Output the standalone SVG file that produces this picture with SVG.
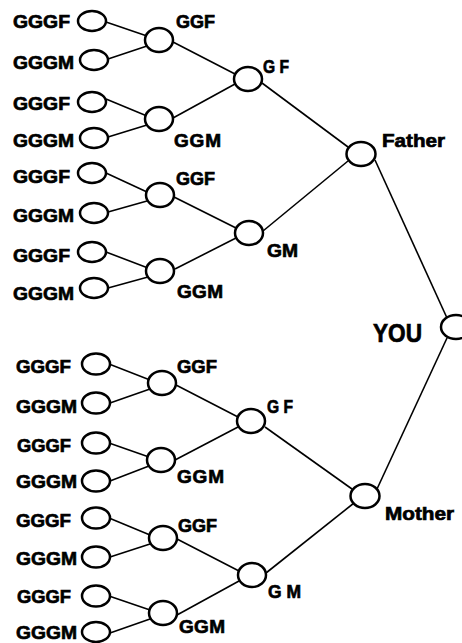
<svg xmlns="http://www.w3.org/2000/svg" width="462" height="643" viewBox="0 0 462 643">
<style>
.n{fill:#fff;stroke:#000;stroke-width:2.5}
.t{font-family:"Liberation Sans",Arial,sans-serif;font-weight:700;font-size:19px;fill:#000;stroke:#000;stroke-width:0.7}
.y{font-size:25px}
.c line{stroke:#000;stroke-width:1.6}
</style>
<rect width="462" height="643" fill="#fff"/>
<g class="c" id="connectors">
<line x1="106" y1="22" x2="147" y2="36"/>
<line x1="108" y1="59" x2="147" y2="46"/>
<line x1="106" y1="99" x2="147" y2="116"/>
<line x1="108" y1="137" x2="147" y2="125"/>
<line x1="106" y1="173" x2="147" y2="192"/>
<line x1="108" y1="212" x2="147" y2="201"/>
<line x1="106" y1="252" x2="148" y2="268"/>
<line x1="108" y1="288" x2="148" y2="277"/>
<line x1="109" y1="364" x2="150" y2="380"/>
<line x1="110" y1="403" x2="150" y2="389"/>
<line x1="109" y1="443" x2="149" y2="457"/>
<line x1="110" y1="481" x2="149" y2="466"/>
<line x1="109" y1="518" x2="150" y2="535"/>
<line x1="110" y1="557" x2="150" y2="544"/>
<line x1="109" y1="596" x2="150" y2="610"/>
<line x1="110" y1="633" x2="150" y2="619"/>
<line x1="173" y1="42" x2="235" y2="74"/>
<line x1="173" y1="118" x2="235" y2="84"/>
<line x1="174" y1="197" x2="236" y2="228"/>
<line x1="175" y1="269" x2="236" y2="238"/>
<line x1="176" y1="385" x2="238" y2="417"/>
<line x1="175" y1="460" x2="238" y2="427"/>
<line x1="177" y1="539" x2="239" y2="571"/>
<line x1="177" y1="615" x2="239" y2="581"/>
<line x1="262" y1="83" x2="348" y2="147"/>
<line x1="263" y1="231" x2="348" y2="161"/>
<line x1="265" y1="427" x2="352" y2="489"/>
<line x1="266" y1="573" x2="354" y2="503"/>
<line x1="375" y1="160" x2="447" y2="318"/>
<line x1="447" y1="338" x2="377" y2="489"/>
</g>
<g id="you"><ellipse class="n" cx="456" cy="327" rx="15" ry="12"/><text class="t y" x="373" y="342" textLength="49" lengthAdjust="spacingAndGlyphs">YOU</text></g>
<g id="father"><ellipse class="n" cx="361" cy="154" rx="14.5" ry="12"/><text class="t" x="382" y="147" textLength="63" lengthAdjust="spacingAndGlyphs">Father</text></g>
<g id="mother"><ellipse class="n" cx="365" cy="496" rx="14.5" ry="12"/><text class="t" x="385" y="520" textLength="69" lengthAdjust="spacingAndGlyphs">Mother</text></g>
<g id="gf1"><ellipse class="n" cx="248" cy="79" rx="14" ry="12"/><text class="t" x="263" y="73" textLength="26" lengthAdjust="spacingAndGlyphs">G F</text></g>
<g id="gm1"><ellipse class="n" cx="249" cy="233" rx="14" ry="12"/><text class="t" x="267" y="257" textLength="31" lengthAdjust="spacingAndGlyphs">GM</text></g>
<g id="gf2"><ellipse class="n" cx="251" cy="421" rx="14" ry="12"/><text class="t" x="267" y="413" textLength="26" lengthAdjust="spacingAndGlyphs">G F</text></g>
<g id="gm2"><ellipse class="n" cx="252" cy="575" rx="14" ry="12"/><text class="t" x="268" y="598" textLength="33" lengthAdjust="spacingAndGlyphs">G M</text></g>
<g id="ggf1"><ellipse class="n" cx="159" cy="40" rx="14" ry="12"/><text class="t" x="176" y="28" textLength="39" lengthAdjust="spacingAndGlyphs">GGF</text></g>
<g id="ggm1"><ellipse class="n" cx="159" cy="119" rx="14" ry="12"/><text class="t" x="174" y="147" textLength="47" lengthAdjust="spacing">GGM</text></g>
<g id="ggf2"><ellipse class="n" cx="160" cy="195" rx="14" ry="12"/><text class="t" x="176" y="185" textLength="39" lengthAdjust="spacingAndGlyphs">GGF</text></g>
<g id="ggm2"><ellipse class="n" cx="160" cy="271" rx="14" ry="12"/><text class="t" x="177" y="298" textLength="46" lengthAdjust="spacing">GGM</text></g>
<g id="ggf3"><ellipse class="n" cx="162" cy="383" rx="14" ry="12"/><text class="t" x="177" y="373" textLength="40" lengthAdjust="spacingAndGlyphs">GGF</text></g>
<g id="ggm3"><ellipse class="n" cx="161" cy="460" rx="14" ry="12"/><text class="t" x="177" y="483" textLength="47" lengthAdjust="spacing">GGM</text></g>
<g id="ggf4"><ellipse class="n" cx="163" cy="538" rx="14" ry="12"/><text class="t" x="178" y="532" textLength="39" lengthAdjust="spacingAndGlyphs">GGF</text></g>
<g id="ggm4"><ellipse class="n" cx="163" cy="613" rx="14" ry="12"/><text class="t" x="179" y="633" textLength="46" lengthAdjust="spacing">GGM</text></g>
<g id="l1"><ellipse class="n" cx="92" cy="21" rx="14" ry="10"/><text class="t" x="13" y="28" textLength="57" lengthAdjust="spacingAndGlyphs">GGGF</text></g>
<g id="l2"><ellipse class="n" cx="94" cy="60" rx="14" ry="10"/><text class="t" x="13" y="69" textLength="61" lengthAdjust="spacingAndGlyphs">GGGM</text></g>
<g id="l3"><ellipse class="n" cx="92" cy="102" rx="14" ry="10"/><text class="t" x="13" y="110" textLength="57" lengthAdjust="spacingAndGlyphs">GGGF</text></g>
<g id="l4"><ellipse class="n" cx="94" cy="138" rx="14" ry="10"/><text class="t" x="13" y="147" textLength="61" lengthAdjust="spacingAndGlyphs">GGGM</text></g>
<g id="l5"><ellipse class="n" cx="92" cy="173" rx="14" ry="10"/><text class="t" x="13" y="183" textLength="57" lengthAdjust="spacingAndGlyphs">GGGF</text></g>
<g id="l6"><ellipse class="n" cx="94" cy="213" rx="14" ry="10"/><text class="t" x="13" y="222" textLength="61" lengthAdjust="spacingAndGlyphs">GGGM</text></g>
<g id="l7"><ellipse class="n" cx="92" cy="252" rx="14" ry="10"/><text class="t" x="13" y="262" textLength="57" lengthAdjust="spacingAndGlyphs">GGGF</text></g>
<g id="l8"><ellipse class="n" cx="94" cy="288" rx="14" ry="10"/><text class="t" x="13" y="300" textLength="61" lengthAdjust="spacingAndGlyphs">GGGM</text></g>
<g id="l9"><ellipse class="n" cx="96" cy="364" rx="14" ry="10.5"/><text class="t" x="16" y="373" textLength="55" lengthAdjust="spacingAndGlyphs">GGGF</text></g>
<g id="l10"><ellipse class="n" cx="96" cy="403" rx="14" ry="10.5"/><text class="t" x="16" y="413" textLength="61" lengthAdjust="spacingAndGlyphs">GGGM</text></g>
<g id="l11"><ellipse class="n" cx="96" cy="443" rx="14" ry="10.5"/><text class="t" x="17" y="452" textLength="54" lengthAdjust="spacingAndGlyphs">GGGF</text></g>
<g id="l12"><ellipse class="n" cx="96" cy="481" rx="14" ry="10.5"/><text class="t" x="16" y="488" textLength="61" lengthAdjust="spacingAndGlyphs">GGGM</text></g>
<g id="l13"><ellipse class="n" cx="96" cy="518" rx="14" ry="10.5"/><text class="t" x="16" y="527" textLength="55" lengthAdjust="spacingAndGlyphs">GGGF</text></g>
<g id="l14"><ellipse class="n" cx="96" cy="557" rx="14" ry="10.5"/><text class="t" x="16" y="565" textLength="61" lengthAdjust="spacingAndGlyphs">GGGM</text></g>
<g id="l15"><ellipse class="n" cx="96" cy="596" rx="14" ry="10.5"/><text class="t" x="17" y="603" textLength="54" lengthAdjust="spacingAndGlyphs">GGGF</text></g>
<g id="l16"><ellipse class="n" cx="96" cy="632" rx="14" ry="10"/><text class="t" x="16" y="639" textLength="61" lengthAdjust="spacingAndGlyphs">GGGM</text></g>
</svg>
